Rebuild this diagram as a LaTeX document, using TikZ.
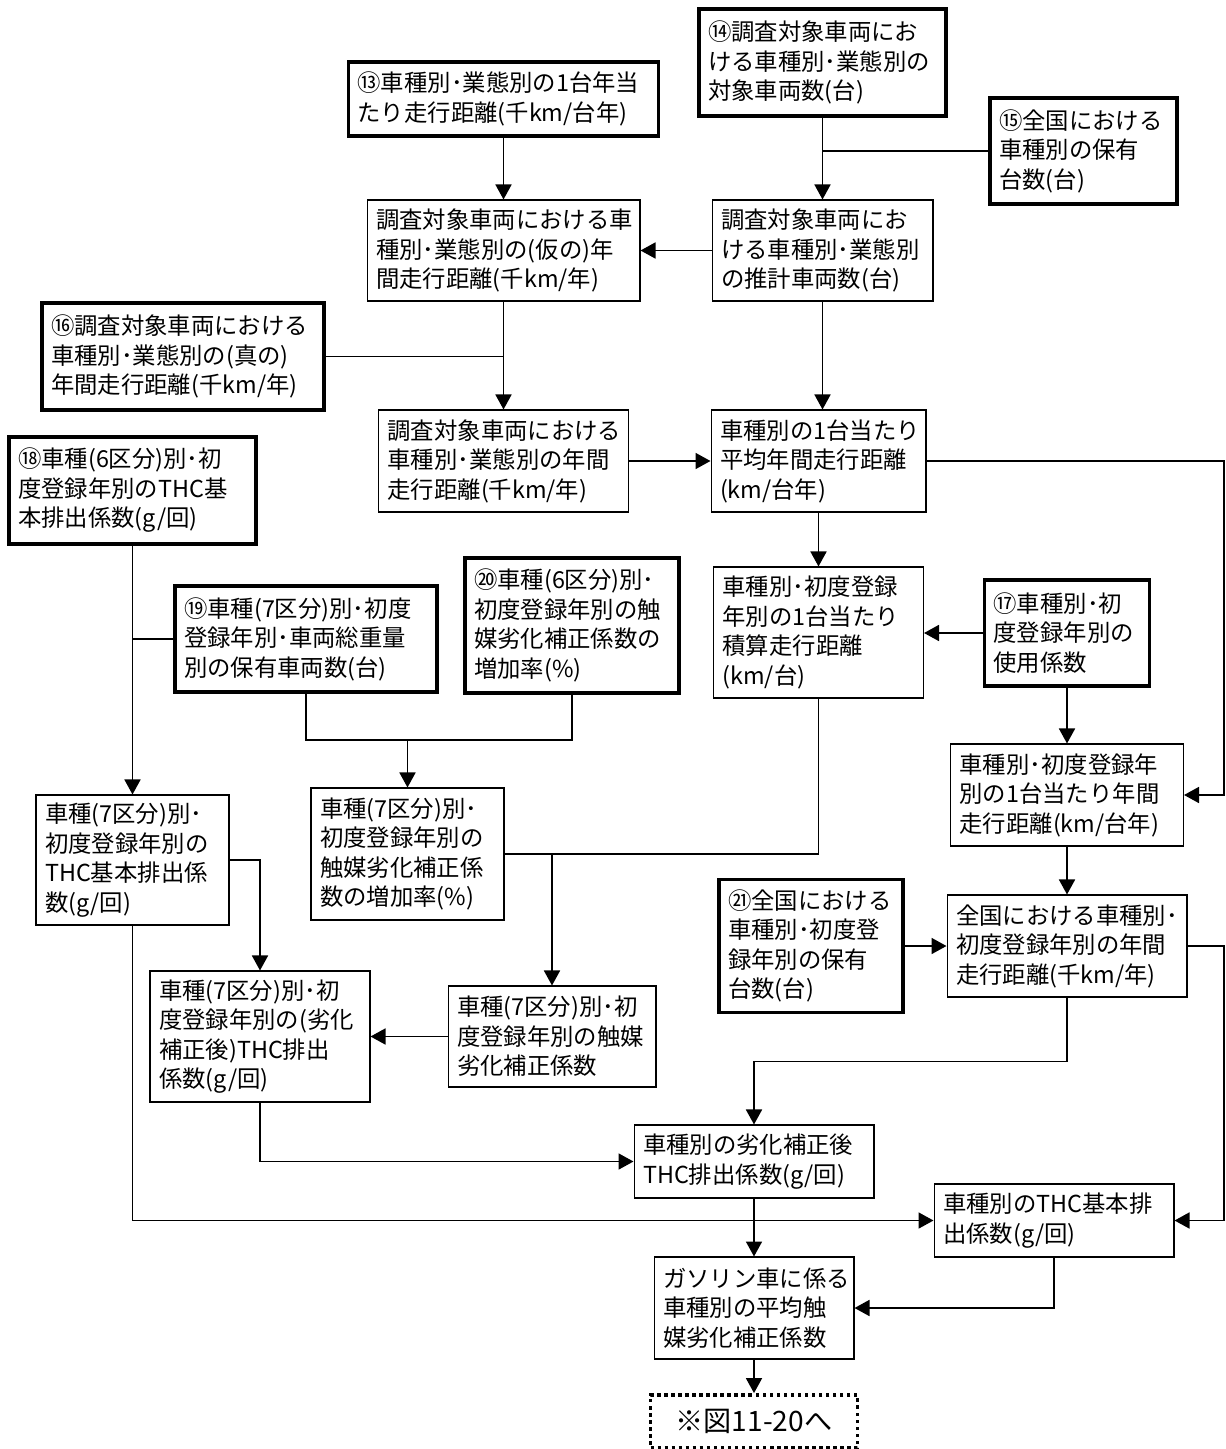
\documentclass[tikz,border=0pt]{standalone}
\usepackage{fontspec}
\setmainfont{Noto Sans CJK JP}
\usetikzlibrary{arrows.meta}
\tikzset{
  box/.style 2 args={draw, line width=0.6pt, align=left, inner xsep=0.18cm,
    text width=#1cm, minimum height=#2cm},
  key/.style={line width=2.2pt},
}
\begin{document}
\begin{tikzpicture}[x=0.02cm, y=-0.02cm,
    font=\fontsize{13.3}{16.8}\selectfont,
    >={Triangle[length=0.3cm,width=0.32cm]}]
  \useasboundingbox (0,0) rectangle (1226,1449);
  % input boxes
  \node[box={5.84}{1.48}, key] (n13) at (503.5,99) {⑬車種別･業態別の1台年当\\たり走行距離(千km/台年)};
  \node[box={4.58}{2.14}, key] (n14) at (822.5,62.5) {⑭調査対象車両にお\\ける車種別･業態別の\\対象車両数(台)};
  \node[box={3.38}{2.12}, key] (n15) at (1083.5,151) {⑮全国における\\車種別の保有\\台数(台)};
  \node[box={5.28}{2.14}, key] (n16) at (183,356.5) {⑯調査対象車両における\\車種別･業態別の(真の)\\年間走行距離(千km/年)};
  \node[box={2.94}{2.12}, key] (n17) at (1067,633) {⑰車種別･初\\度登録年別の\\使用係数};
  \node[box={4.58}{2.14}, key] (n18) at (132.5,490.5) {⑱車種(6区分)別･初\\度登録年別のTHC基\\本排出係数(g/回)};
  \node[box={4.88}{2.12}, key] (n19) at (306,639) {⑲車種(7区分)別･初度\\登録年別･車両総重量\\別の保有車両数(台)};
  \node[box={3.92}{2.70}, key] (n20) at (572,625.5) {⑳車種(6区分)別･\\初度登録年別の触\\媒劣化補正係数の\\増加率(\%)};
  \node[box={3.32}{2.66}, key] (n21) at (811,946) {㉑全国における\\車種別･初度登\\録年別の保有\\台数(台)};
  % calculated boxes
  \node[box={4.06}{2.02}] (p1) at (822.5,250.5) {調査対象車両にお\\ける車種別･業態別\\の推計車両数(台)};
  \node[box={5.10}{2.02}] (p2) at (503.5,250.5) {調査対象車両における車\\種別･業態別の(仮の)年\\間走行距離(千km/年)};
  \node[box={4.64}{2.04}] (p3) at (503.5,461) {調査対象車両における\\車種別･業態別の年間\\走行距離(千km/年)};
  \node[box={3.94}{2.04}] (p4) at (818.5,461) {車種別の1台当たり\\平均年間走行距離\\(km/台年)};
  \node[box={3.84}{2.62}] (p5) at (818.5,632.5) {車種別･初度登録\\年別の1台当たり\\積算走行距離\\(km/台)};
  \node[box={3.50}{2.60}] (p6) at (132.5,860) {車種(7区分)別･\\初度登録年別の\\THC基本排出係\\数(g/回)};
  \node[box={3.50}{2.64}] (p7) at (407.5,854) {車種(7区分)別･\\初度登録年別の\\触媒劣化補正係\\数の増加率(\%)};
  \node[box={4.30}{2.04}] (p8) at (1067,795) {車種別･初度登録年\\別の1台当たり年間\\走行距離(km/台年)};
  \node[box={4.44}{2.04}] (p9) at (1067,946) {全国における車種別･\\初度登録年別の年間\\走行距離(千km/年)};
  \node[box={4.04}{2.62}] (p10) at (260,1036.5) {車種(7区分)別･初\\度登録年別の(劣化\\補正後)THC排出\\係数(g/回)};
  \node[box={3.80}{2.02}] (p11) at (552,1036.5) {車種(7区分)別･初\\度登録年別の触媒\\劣化補正係数};
  \node[box={4.44}{1.46}] (p12) at (754,1161.5) {車種別の劣化補正後\\THC排出係数(g/回)};
  \node[box={4.44}{1.46}] (p13) at (1054,1220.5) {車種別のTHC基本排\\出係数(g/回)};
  \node[box={3.64}{2.04}] (p14) at (754,1308) {ガソリン車に係る\\車種別の平均触\\媒劣化補正係数};
  \node[draw, line width=2.2pt, dash pattern=on 2pt off 2pt, minimum width=4.14cm,
    minimum height=1.06cm, font=\fontsize{16}{19}\selectfont] (p15) at (754,1421.5) {※図11-20へ};
  \coordinate (rt) at (1224,0);
  \coordinate (j1) at (407.5,740);
  \begin{scope}[-, line width=1pt]
    \draw (n15.west) -- (n15.west -| n14.south);
    \draw (n16.east) -- (n16.east -| p2.south);
    \draw (n19.west) -- (n19.west -| n18.south);
    \draw (n20.south) |- (j1);
    \draw (p5.south) |- (p7.east -| p11.north);
  \end{scope}
  \begin{scope}[->, line width=1pt]
    \draw (n13) -- (p2);
    \draw (n14) -- (p1);
    \draw (p1) -- (p2);
    \draw (p2) -- (p3);
    \draw (p1.south) -- (p1.south |- p4.north);
    \draw (p3) -- (p4);
    \draw (p4) -- (p5);
    \draw (n17.west) -- (n17.west -| p5.east);
    \draw (n17) -- (p8);
    \draw (p4.east) -- (p4.east -| rt) |- (p8.east);
    \draw (p8) -- (p9);
    \draw (n21) -- (p9);
    \draw (p9.east) -- (p9.east -| rt) |- (p13.east);
    \draw (p9.south) -- ++(0,64) -| (p12.north);
    \draw (n18) -- (p6);
    \draw (n19.south) |- (j1) -- (p7.north);
    \draw (p6.east) -| (p10.north);
    \draw (p7.east) -| (p11.north);
    \draw (p11) -- (p10);
    \draw (p10.south) |- (p12.west);
    \draw (p6.south) |- (p13.west);
    \draw (p12) -- (p14);
    \draw (p13.south) |- (p14.east);
    \draw (p14) -- (p15);
  \end{scope}
\end{tikzpicture}
\end{document}
